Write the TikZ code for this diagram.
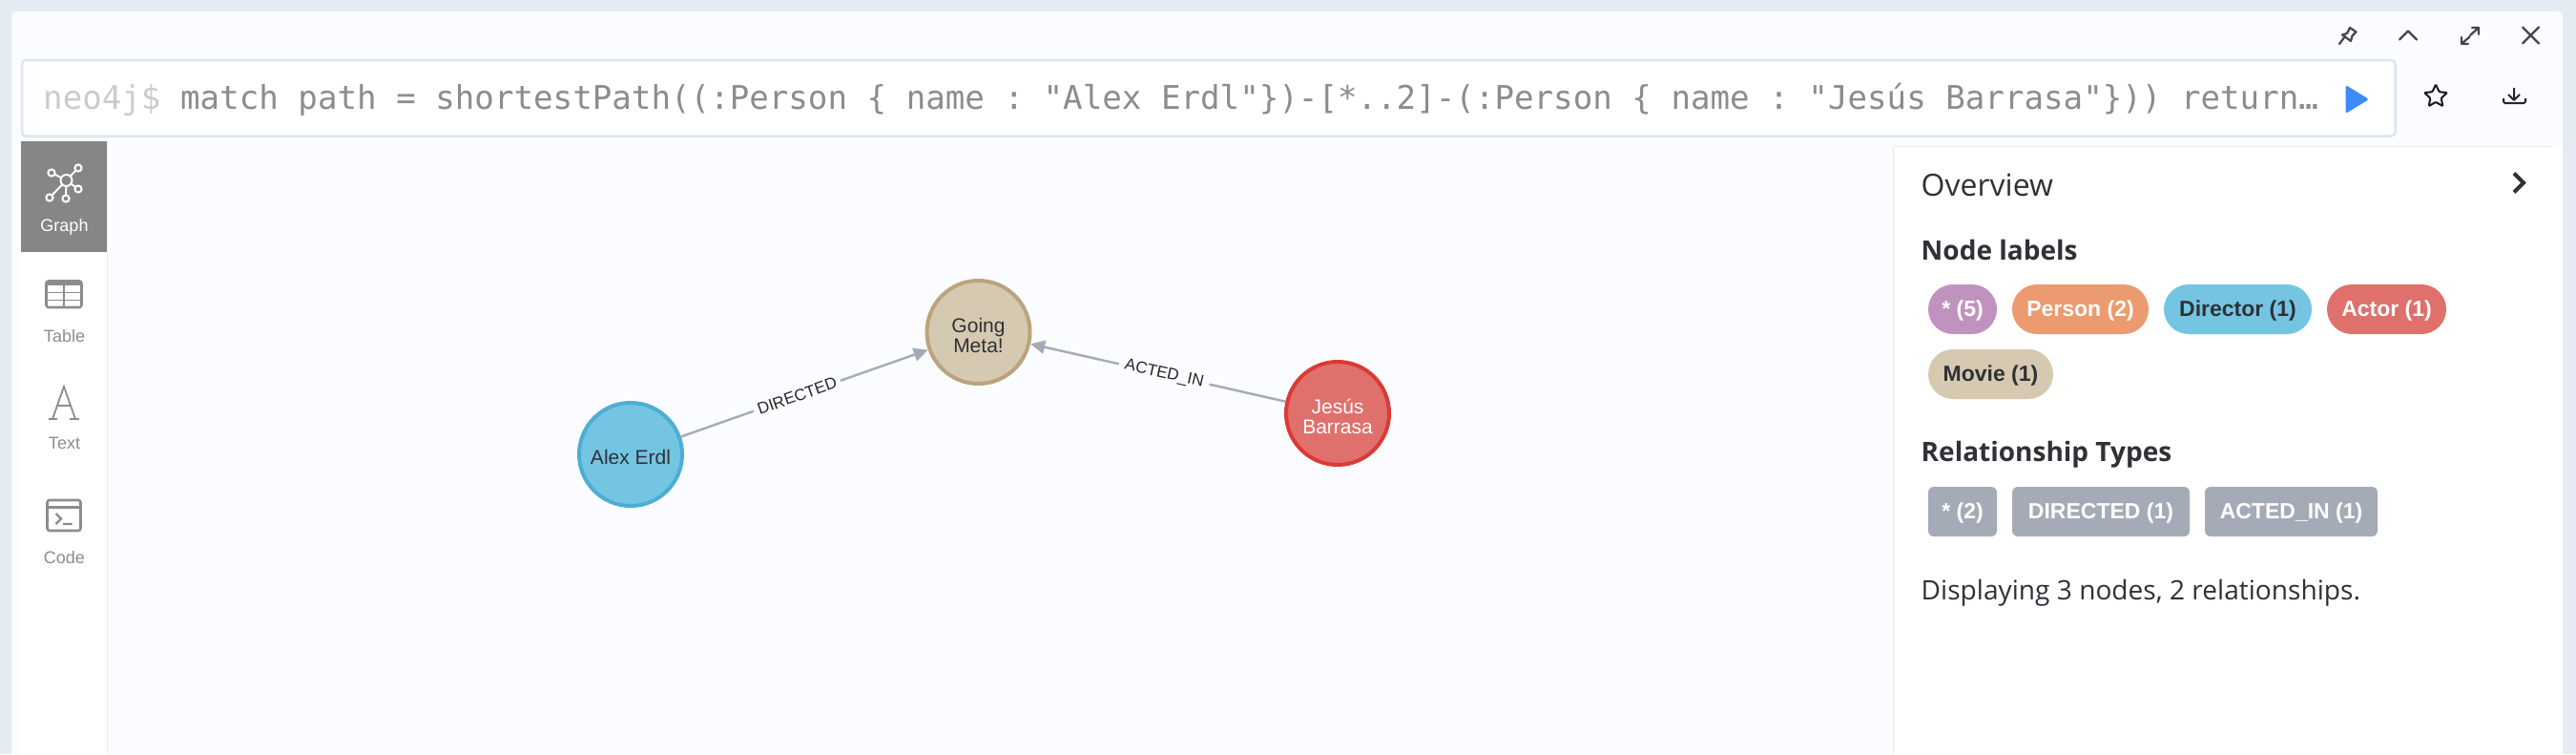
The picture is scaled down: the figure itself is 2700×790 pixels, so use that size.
\documentclass[tikz,border=0pt]{standalone}
\usepackage{fontspec}
\usetikzlibrary{arrows.meta,shapes.geometric}
\newfontfamily\uifont{Open Sans}
\newfontfamily\helvfont{Liberation Sans}
\newfontfamily\codefont{DejaVu Sans Mono}
\definecolor{outerbg}{HTML}{E4EBF3}
\definecolor{cardbg}{HTML}{FBFCFF}
\definecolor{edgeline}{HTML}{DCE6F0}
\definecolor{relgrey}{HTML}{A5ABB6}
\definecolor{tabgrey}{HTML}{868686}
\definecolor{icongrey}{HTML}{8C8C8C}
\definecolor{promptgrey}{HTML}{C9CBCF}
\definecolor{inktext}{HTML}{2F3136}
\definecolor{shadowc}{HTML}{E9EDF3}
\definecolor{pinkc}{HTML}{C093BE}
\definecolor{orangec}{HTML}{EC9A6F}
\definecolor{bluec}{HTML}{73C5E2}
\definecolor{bluee}{HTML}{4EADD3}
\definecolor{redc}{HTML}{E0706B}
\definecolor{rede}{HTML}{DC3A35}
\definecolor{tanc}{HTML}{D6C9B1}
\definecolor{tane}{HTML}{BBA37C}
\definecolor{playc}{HTML}{3B8BFB}
\frenchspacing
\newcommand{\gstrut}{\rule{0pt}{23pt}}
\newcommand{\gstrutone}{\rule{0pt}{21pt}}
\tikzset{
  sidelabel/.style={font=\helvfont\fontsize{18}{18}\selectfont,text=icongrey,anchor=base,inner sep=0pt},
  headtext/.style={anchor=base west,inner sep=0pt,text=inktext},
  pill/.style={rectangle,rounded corners=26pt,minimum height=52pt,inner sep=0pt,outer sep=0pt,
    text height=18pt,text depth=2.6pt,
    font=\helvfont\bfseries\fontsize{23}{23}\selectfont},
  relpill/.style={pill,rounded corners=6pt,fill=relgrey,text=white},
  gnode/.style={circle,draw,line width=4pt,minimum size=108pt,inner sep=0pt,align=center,
    font=\helvfont\fontsize{21}{21}\selectfont},
  rel/.style={draw=relgrey,line width=2.4pt,-{Triangle[length=15pt,width=14pt]}},
  rellabel/.style={fill=cardbg,inner sep=0pt,minimum height=16pt,text=black!85,
    font=\helvfont\fontsize{17}{17}\selectfont,sloped},
  iconline/.style={draw=icongrey,line width=2.6pt},
  topicon/.style={draw=inktext!90,line width=2.2pt,line cap=round,line join=round},
}
\begin{document}
\begin{tikzpicture}[x=1pt,y=-1pt]
\useasboundingbox (0,0) rectangle (2700,790);
% backgrounds
\fill[outerbg] (0,0) rectangle (2700,790);
\fill[cardbg,rounded corners=5pt] (12,12) rectangle (2686,810);
% editor
\draw[edgeline,fill=white,line width=2.5pt,rounded corners=4pt] (23,63) rectangle (2510.5,142.5);
\node[anchor=base west,inner sep=0pt,font=\codefont\fontsize{34.15}{34}\selectfont,text=icongrey] (query) at (45,114)
  {\textcolor{promptgrey}{neo4j\$} match path = shortestPath((:Person \{ name : "Alex Erdl"\})-[*..2]-(:Person \{ name : "Jesús Barrasa"\})) return…};
% run
\fill[playc,rounded corners=2.5pt] (2458.5,89) -- (2483,104) -- (2458.5,119) -- cycle;
% star and download
\node[star,star points=5,star point ratio=2.1,draw=black!90,line width=2pt,minimum size=25pt,inner sep=0pt,rounded corners=1pt] (fav) at (2553,101) {};
\draw[draw=black!85,line width=2pt,line join=round] (2635,92) -- (2635,105) (2629,99) -- (2635,105) -- (2641,99);
\draw[draw=black!85,line width=2pt,rounded corners=1.5pt] (2624,103) -- (2624,108) -- (2647,108) -- (2647,103);
% top-right icons
\draw[topicon] (2452,46) -- (2458,38) (2463,29) -- (2469.5,33.5) -- (2465.5,37.5) -- (2464,43) -- (2455,36.5) -- (2460,35) -- cycle;
\draw[topicon] (2515,41.5) -- (2524,32.5) -- (2533,41.5);
\draw[topicon] (2598,29) -- (2589,37) (2591,29) -- (2598,29) -- (2598,36) (2580,46) -- (2588.5,38.5) (2580,39) -- (2580,46) -- (2587,46);
\draw[topicon] (2644,28.5) -- (2661,45.5) (2661,28.5) -- (2644,45.5);
% sidebar
\fill[white] (22,148) rectangle (112,810);
\draw[shadowc,line width=1.5pt] (112.5,148) -- (112.5,790);
\fill[tabgrey] (22,148) rectangle (112,264);
% graph icon
\foreach \px/\py in {54/181,82/176,82/198,69/208,52/207}{
  \draw[white,line width=2pt] (69.5,189) -- (\px,\py);
  \draw[white,line width=2pt,fill=tabgrey] (\px,\py) circle (3.6pt);
}
\draw[white,line width=2pt,fill=tabgrey] (69.5,189) circle (6pt);
\node[sidelabel,text=white] (graphlabel) at (67.5,242.5) {Graph};
% table icon
\draw[iconline,rounded corners=2.5pt] (48.5,294.5) rectangle (85.5,322);
\fill[icongrey] (48,294) rectangle (86,298.5);
\draw[icongrey,line width=1.6pt] (67,296) -- (67,322) (48,306.5) -- (86,306.5) (48,314.5) -- (86,314.5);
\node[sidelabel] (tablelabel) at (67.5,358) {Table};
% text icon
\draw[icongrey,line width=1.8pt,line join=miter] (55,439) -- (67,405) -- (79,439) (60,425) -- (74,425);
\draw[icongrey,line width=1.8pt] (51,439) -- (60,439) (73,439) -- (83,439);
\node[sidelabel] (textlabel) at (67.5,470) {Text};
% code icon
\draw[iconline,rounded corners=2.5pt] (49.5,524) rectangle (84.5,556);
\draw[icongrey,line width=2.6pt] (49,531.5) -- (85,531.5);
\draw[icongrey,line width=2.2pt] (58.5,538) -- (64,543.5) -- (58.5,549) (66,549) -- (75.5,549);
\node[sidelabel] (codelabel) at (67.5,590) {Code};
% overview panel
\fill[white] (1985,154) rectangle (2686,810);
\draw[shadowc,line width=1.5pt] (1984.5,154) -- (1984.5,790);
\draw[shadowc,line width=1.5pt] (1985,153.5) -- (2675,153.5);
\node[headtext,font=\uifont\fontsize{32}{32}\selectfont] (overview) at (2013.5,205) {Overview};
\draw[draw=inktext,line width=4pt,line join=miter] (2635,181.5) -- (2645,191.5) -- (2635,201.5);
\node[headtext,font=\uifont\bfseries\fontsize{28}{28}\selectfont] (nodelabels) at (2013.5,272) {Node labels};
\node[pill,fill=pinkc,text=white,minimum width=72pt] (pstar) at (2057,324) {* (5)};
\node[pill,fill=orangec,text=white,minimum width=143pt] (pperson) at (2180.5,324) {Person (2)};
\node[pill,fill=bluec,text=inktext,minimum width=155pt] (pdirector) at (2345.5,324) {Director (1)};
\node[pill,fill=redc,text=white,minimum width=125pt] (pactor) at (2501.5,324) {Actor (1)};
\node[pill,fill=tanc,text=inktext,minimum width=131pt] (pmovie) at (2086.5,392) {Movie (1)};
\node[headtext,font=\uifont\bfseries\fontsize{28}{28}\selectfont] (reltypes) at (2013.5,483) {Relationship Types};
\node[relpill,minimum width=72pt] (rstar) at (2057,536) {* (2)};
\node[relpill,minimum width=186pt] (rdirected) at (2202,536) {DIRECTED (1)};
\node[relpill,minimum width=181pt] (racted) at (2401.5,536) {ACTED\_IN (1)};
\node[headtext,font=\uifont\fontsize{28.1}{29}\selectfont] (status) at (2013.5,628) {Displaying 3 nodes, 2 relationships.};
% graph
\node[gnode,draw=tane,fill=tanc,text=inktext] (meta) at (1025.5,348) {\gstrut Going\\Meta!};
\node[gnode,draw=bluee,fill=bluec,text=inktext] (alex) at (661,476) {\gstrutone Alex Erdl};
\node[gnode,draw=rede,fill=redc,text=white] (jesus) at (1402,433) {\gstrut Jesús\\Barrasa};
\draw[rel] (alex) -- node[rellabel,pos=.47,minimum width=96pt] (dirlabel) {DIRECTED} (meta);
\draw[rel] (jesus) -- node[rellabel,pos=.476,minimum width=97pt] (actlabel) {ACTED\_IN} (meta);
\end{tikzpicture}
\end{document}
